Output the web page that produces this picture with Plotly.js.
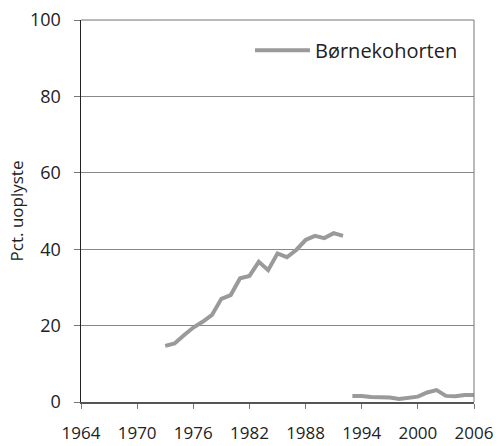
<!DOCTYPE html>
<html>
<head>
<meta charset="utf-8">
<script src="https://cdn.plot.ly/plotly-3.0.1.min.js"></script>
<style>html,body{margin:0;padding:0;background:#fff;}#chart{width:500px;height:446px;}</style>
</head>
<body>
<div id="chart"></div>
<script>
const seriesName = "Børnekohorten";
const yTitle = "Pct. uoplyste";
const xTickVals = [1964, 1970, 1976, 1982, 1988, 1994, 2000, 2006];
const xTickText = ["1964", "1970", "1976", "1982", "1988", "1994", "2000", "2006"];
const yTickVals = [0, 20, 40, 60, 80, 100];

const years0 = [1964, 1965, 1966, 1967, 1968, 1969, 1970, 1971, 1972];
const vals0  = [100, 100, 100, 100, 100, 100, 100, 100, 100];

const years1 = [1973, 1974, 1975, 1976, 1977, 1978, 1979, 1980, 1981, 1982,
                1983, 1984, 1985, 1986, 1987, 1988, 1989, 1990, 1991, 1992];
const vals1  = [14.7, 15.3, 17.5, 19.5, 21.0, 22.8, 27.0, 28.0, 32.4, 33.0,
                36.7, 34.5, 38.9, 37.9, 39.8, 42.4, 43.5, 42.9, 44.2, 43.5];

const years2 = [1993, 1994, 1995, 1996, 1997, 1998, 1999, 2000, 2001, 2002, 2003, 2004, 2005, 2006];
const vals2  = [1.6, 1.6, 1.3, 1.2, 1.2, 0.8, 1.2, 1.4, 2.5, 3.1, 1.6, 1.5, 1.8, 1.8];

const lineColor = "#9a9a9a";
const fontFam = "Open Sans, sans-serif";

const traces = [
  {x: years0, y: vals0, mode: "lines", line: {color: "#b4b4b4", width: 1.5}, showlegend: false, hoverinfo: "skip"},
  {x: years1, y: vals1, mode: "lines", name: seriesName, line: {color: lineColor, width: 4}},
  {x: years2, y: vals2, mode: "lines", name: seriesName, showlegend: false, line: {color: lineColor, width: 4}}
];

const layout = {
  width: 500, height: 446,
  margin: {l: 81, r: 26, t: 20, b: 44},
  paper_bgcolor: "#fff", plot_bgcolor: "#fff",
  font: {family: fontFam, size: 17, color: "#222"},
  showlegend: true,
  legend: {
    x: 0.43, y: 0.921, xanchor: "left", yanchor: "middle",
    bgcolor: "rgba(0,0,0,0)", borderwidth: 0,
    font: {family: fontFam, size: 20, color: "#222"},
    itemwidth: 55
  },
  xaxis: {
    range: [1964, 2006],
    tickmode: "array", tickvals: xTickVals, ticktext: xTickText,
    showgrid: false, zeroline: false,
    showline: true, linecolor: "#555", linewidth: 1.5,
    ticks: "outside", ticklen: 5, tickcolor: "#777", tickwidth: 1,
    ticklabelstandoff: 10,
    tickfont: {family: fontFam, size: 17, color: "#222"}
  },
  yaxis: {
    range: [0, 100],
    tickmode: "array", tickvals: yTickVals,
    showgrid: true, gridcolor: "#888", gridwidth: 1,
    zeroline: false,
    showline: true, linecolor: "#222", linewidth: 1.5,
    ticks: "outside", ticklen: 6, tickcolor: "#777", tickwidth: 1,
    ticklabelstandoff: 9,
    tickfont: {family: fontFam, size: 18, color: "#222"},
    title: {text: yTitle, font: {family: fontFam, size: 17, color: "#222"}, standoff: 2}
  },
  shapes: [
    {type: "line", xref: "paper", yref: "paper", x0: 0, x1: 1, y0: 1, y1: 1, line: {color: "#777", width: 1}, layer: "below"},
    {type: "line", xref: "paper", yref: "paper", x0: 1, x1: 1, y0: 0, y1: 1, line: {color: "#777", width: 1}}
  ]
};

Plotly.newPlot("chart", traces, layout, {displayModeBar: false, staticPlot: true});
</script>
</body>
</html>
